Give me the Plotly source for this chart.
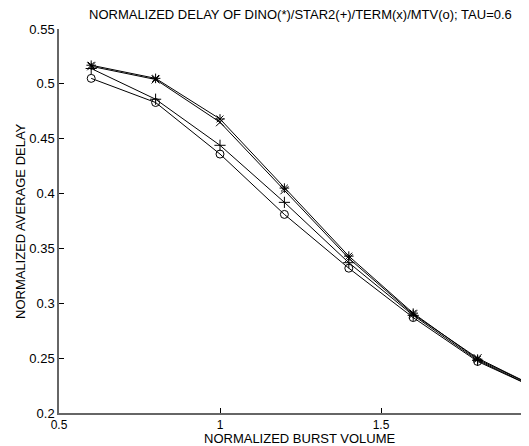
import plotly.graph_objects as go

x_vals = [0.6, 0.8, 1.0, 1.2, 1.4, 1.6, 1.8, 2.0]
dino = [0.517, 0.505, 0.468, 0.405, 0.343, 0.291, 0.249, 0.221]
star2 = [0.514, 0.486, 0.444, 0.392, 0.337, 0.289, 0.248, 0.220]
term = [0.516, 0.504, 0.465, 0.403, 0.341, 0.290, 0.250, 0.221]
mtv = [0.505, 0.483, 0.436, 0.381, 0.332, 0.287, 0.247, 0.220]

x_ticks = [0.5, 1.0, 1.5]
x_ticktext = ["0.5", "1", "1.5"]
y_ticks = [0.2, 0.25, 0.3, 0.35, 0.4, 0.45, 0.5, 0.55]
y_ticktext = ["0.2", "0.25", "0.3", "0.35", "0.4", "0.45", "0.5", "0.55"]

title = "NORMALIZED DELAY OF DINO(*)/STAR2(+)/TERM(x)/MTV(o); TAU=0.6"
xlabel = "NORMALIZED BURST VOLUME"
ylabel = "NORMALIZED AVERAGE DELAY"

# page body has an 8px default margin; compensate so the plot sits where the reference has it
OFF = 8
PW, PH = 529, 446
W, H = PW - OFF, PH - OFF
L, T, B = 59 - OFF, 29 - OFF, 33
px_per_unit = 322.0
x_max = 0.5 + (W - L) / px_per_unit

fig = go.Figure()
series = [
    (dino, "asterisk-open", "DINO"),
    (star2, "cross-thin-open", "STAR2"),
    (term, "x-thin-open", "TERM"),
    (mtv, "circle-open", "MTV"),
]
for ys, sym, name in series:
    fig.add_trace(go.Scatter(
        x=x_vals, y=ys, mode="lines+markers", name=name,
        line=dict(color="black", width=1),
        marker=dict(symbol=sym, size=8, color="black",
                    line=dict(color="black", width=1)),
    ))

font = dict(family="Liberation Sans, Arial, sans-serif", size=13, color="black")
tfont = dict(family="Liberation Sans, Arial, sans-serif", size=12, color="black")

fig.update_layout(
    width=W, height=H,
    margin=dict(l=L, r=0, t=T, b=B, pad=0, autoexpand=False),
    paper_bgcolor="white", plot_bgcolor="white",
    showlegend=False,
    font=font,
)
fig.update_xaxes(
    range=[0.5, x_max], tickvals=x_ticks, ticktext=x_ticktext, automargin=False,
    showgrid=False, zeroline=False, showline=True, linecolor="#666666", linewidth=1.5,
    ticks="inside", ticklen=5, tickcolor="black", tickwidth=1, tickfont=tfont,
)
fig.update_yaxes(
    range=[0.2, 0.55], tickvals=y_ticks, ticktext=y_ticktext, automargin=False,
    showgrid=False, zeroline=False, showline=True, linecolor="#666666", linewidth=1.5,
    ticks="inside", ticklen=5, tickcolor="black", tickwidth=1, tickfont=font,
)

plot_w = W - L
plot_h = H - T - B
cx = (300 - OFF - L) / plot_w
fig.add_annotation(text=title, xref="paper", yref="paper", x=cx,
                   y=1 + (29 - 14) / plot_h, xanchor="center", yanchor="middle",
                   showarrow=False, font=font)
fig.add_annotation(text=xlabel, xref="paper", yref="paper", x=cx,
                   y=-(438 - 413) / plot_h, xanchor="center", yanchor="middle",
                   showarrow=False, font=font)
fig.add_annotation(text=ylabel, xref="paper", yref="paper", x=(20 - 59) / plot_w,
                   y=0.5, xanchor="center", yanchor="middle", textangle=-90,
                   showarrow=False, font=font)

fig.write_html("out.html")
